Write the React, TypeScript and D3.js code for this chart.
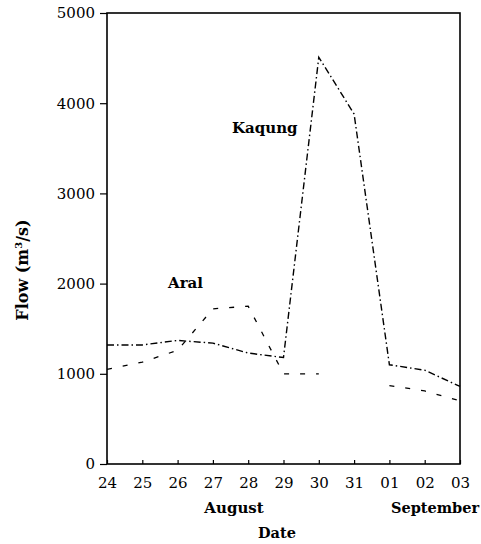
import React, { useRef, useEffect } from 'react';
import * as d3 from 'd3';

const dates = ['24', '25', '26', '27', '28', '29', '30', '31', '01', '02', '03'];
const kaqungFlow = [1320, 1320, 1370, 1340, 1230, 1180, 4510, 3880, 1100, 1040, 860];
const aralFlow: (number | null)[] = [1050, 1130, 1260, 1720, 1750, 1000, 1000, null, 870, 810, 700];
const yTicks = [0, 1000, 2000, 3000, 4000, 5000];

export default function App() {
  const ref = useRef<HTMLDivElement>(null);

  useEffect(() => {
    const width = 481;
    const height = 544;
    const margin = { top: 13, right: 21, bottom: 80, left: 107 };
    const font = '"DejaVu Serif", serif';

    const svg = d3
      .select(ref.current)
      .call((g) => g.select('svg').remove())
      .append('svg')
      .attr('width', width)
      .attr('height', height)
      .style('position', 'absolute')
      .style('left', 0)
      .style('top', 0)
      .style('background', '#fff');

    const x = d3.scalePoint().domain(dates).range([margin.left, width - margin.right]);
    const y = d3.scaleLinear().domain([0, 5000]).range([height - margin.bottom, margin.top]);

    // frame
    svg.append('rect')
      .attr('x', margin.left)
      .attr('y', margin.top)
      .attr('width', width - margin.right - margin.left)
      .attr('height', height - margin.bottom - margin.top)
      .attr('fill', 'none')
      .attr('stroke', '#000')
      .attr('stroke-width', 1.6);

    // y axis
    const yAxis = svg.append('g')
      .attr('transform', `translate(${margin.left}, 0)`)
      .call(d3.axisLeft(y).tickValues(yTicks).tickSize(7).tickPadding(5).tickFormat(d3.format('d')));
    yAxis.select('.domain').remove();
    yAxis.selectAll('line').attr('stroke-width', 1.2);
    yAxis.selectAll('text').attr('font-family', font).attr('font-size', 15).attr('fill', '#000');

    // x axis with inward ticks
    const xAxis = svg.append('g')
      .attr('transform', `translate(0, ${height - margin.bottom})`)
      .call(d3.axisBottom(x).tickSize(0).tickPadding(13));
    xAxis.select('.domain').remove();
    xAxis.selectAll('.tick')
      .append('line')
      .attr('y1', 0)
      .attr('y2', -4)
      .attr('stroke', '#000')
      .attr('stroke-width', 1.2);
    xAxis.selectAll('text').attr('font-family', font).attr('font-size', 15).attr('fill', '#000');

    const kaqungLine = d3.line<number>()
      .x((d, i) => x(dates[i]) as number)
      .y((d) => y(d));

    const aralLine = d3.line<number | null>()
      .defined((d) => d !== null)
      .x((d, i) => x(dates[i]) as number)
      .y((d) => y(d as number));

    svg.append('path')
      .attr('d', kaqungLine(kaqungFlow))
      .attr('fill', 'none')
      .attr('stroke', '#000')
      .attr('stroke-width', 1.4)
      .attr('stroke-dasharray', '7,3,1.5,3');

    svg.append('path')
      .attr('d', aralLine(aralFlow))
      .attr('fill', 'none')
      .attr('stroke', '#000')
      .attr('stroke-width', 1.3)
      .attr('stroke-dasharray', '5,11');

    const label = (text: string, lx: number, ly: number, size: number, anchor = 'start') =>
      svg.append('text')
        .attr('x', lx)
        .attr('y', ly)
        .attr('text-anchor', anchor)
        .attr('font-family', font)
        .attr('font-size', size)
        .attr('font-weight', 'bold')
        .attr('fill', '#000')
        .text(text);

    label('Kaqung', 232, 133, 15);
    label('Aral', 168, 288, 15);
    label('August', 234, 513, 15, 'middle');
    label('September', 435, 513, 14.5, 'middle');
    label('Date', 277, 538, 14.5, 'middle');

    const yLabel = svg.append('text')
      .attr('transform', `translate(28, 270) rotate(-90)`)
      .attr('text-anchor', 'middle')
      .attr('font-family', font)
      .attr('font-size', 16)
      .attr('font-weight', 'bold')
      .attr('fill', '#000');
    yLabel.append('tspan').text('Flow (m');
    yLabel.append('tspan').attr('dy', -6).attr('font-size', 10).text('3');
    yLabel.append('tspan').attr('dy', 6).text('/s)');
  }, []);

  return <div ref={ref}></div>;
}
